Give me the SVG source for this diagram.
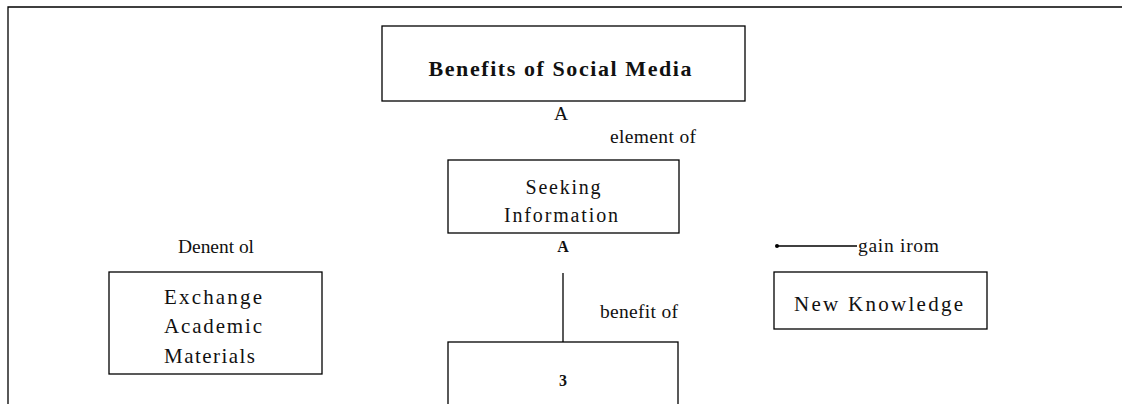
<svg xmlns="http://www.w3.org/2000/svg" width="1122" height="404" viewBox="0 0 1122 404">
  <style>
    .box { fill: #fff; stroke: #000; stroke-width: 1.3; }
    .edge { stroke: #000; stroke-width: 1.3; fill: none; }
    text { font-family: "Liberation Serif", "Times New Roman", serif; fill: #111; }
    .lbl { font-size: 19.5px; }
    .node { font-size: 20px; }
    .big { font-size: 21px; }
    .bold { font-weight: bold; }
  </style>

  <!-- page frame -->
  <path class="edge" d="M8,404 V7 H1122" stroke-width="1.5"/>

  <g id="benefits">
    <rect class="box" x="382" y="26" width="363" height="75"/>
    <text class="bold" x="560" y="76" font-size="22" text-anchor="middle" textLength="263" lengthAdjust="spacing">Benefits of Social Media</text>
  </g>

  <g id="seeking">
    <rect class="box" x="448" y="160" width="231" height="73"/>
    <text class="node" x="563" y="194" text-anchor="middle" textLength="75" lengthAdjust="spacing">Seeking</text>
    <text class="node" x="561" y="222" text-anchor="middle" textLength="114" lengthAdjust="spacing">Information</text>
  </g>

  <g id="exchange">
    <rect class="box" x="109" y="272" width="213" height="102"/>
    <text class="node big" x="164" y="304" textLength="98" lengthAdjust="spacing">Exchange</text>
    <text class="node big" x="164" y="333" textLength="98" lengthAdjust="spacing">Academic</text>
    <text class="node big" x="164" y="363" textLength="91" lengthAdjust="spacing">Materials</text>
  </g>

  <g id="knowledge">
    <rect class="box" x="774" y="272" width="213" height="57"/>
    <text class="node big" x="794" y="311" textLength="169" lengthAdjust="spacing">New Knowledge</text>
  </g>

  <g id="node3">
    <rect class="box" x="448" y="342" width="230" height="80"/>
    <text class="bold" x="563" y="386" font-size="16" text-anchor="middle">3</text>
  </g>

  <g id="connectors">
    <line class="edge" x1="563" y1="273" x2="563" y2="342"/>
    <line class="edge" x1="777" y1="246" x2="857" y2="246"/>
    <circle cx="777" cy="246" r="2" fill="#000"/>
    <text class="lbl" x="561" y="120" text-anchor="middle" font-size="17">A</text>
    <text class="lbl" x="610" y="143" textLength="86" lengthAdjust="spacing">element of</text>
    <text class="bold" x="563" y="252" text-anchor="middle" font-size="16">A</text>
    <text class="lbl" x="178" y="253" textLength="76" lengthAdjust="spacing">Denent ol</text>
    <text class="lbl" x="858" y="252" textLength="81" lengthAdjust="spacing">gain irom</text>
    <text class="lbl" x="600" y="318" textLength="78" lengthAdjust="spacing">benefit of</text>
  </g>
</svg>
